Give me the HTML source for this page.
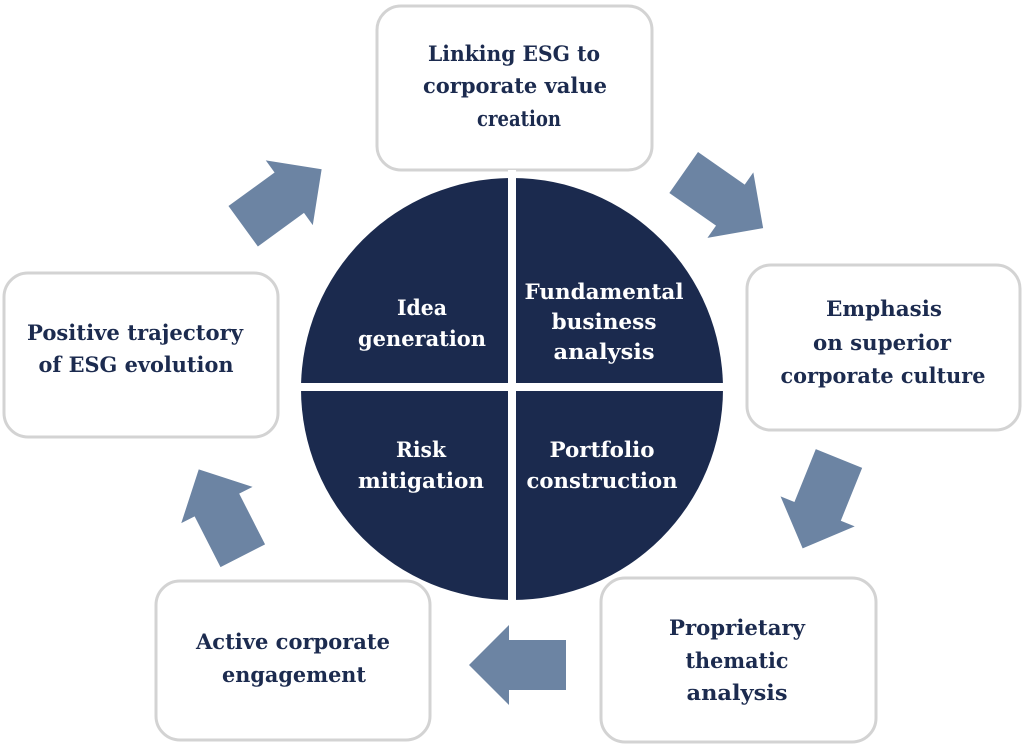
<!DOCTYPE html>
<html><head><meta charset="utf-8"><style>
html,body{margin:0;padding:0;background:#fff;}
svg{display:block;}
text{font-family:"DejaVu Serif","Liberation Serif",serif;font-weight:bold;font-size:21px;text-anchor:middle;}
.d{fill:#1c2b4f;}
.w{fill:#fff;}
</style></head><body>
<svg width="1024" height="751" viewBox="0 0 1024 751" xmlns="http://www.w3.org/2000/svg">
<defs>
<polygon id="arr" points="-48,-25 9,-25 9,-40 49,0 9,40 9,25 -48,25" fill="#6c84a3"/>
</defs>
<g fill="#fff" stroke="#d3d3d3" stroke-width="3">
<rect x="377" y="6" width="275" height="164" rx="24"/>
<rect x="747" y="265" width="273" height="165" rx="24"/>
<rect x="601" y="578" width="275" height="164" rx="24"/>
<rect x="156" y="581" width="274" height="159" rx="24"/>
<rect x="4" y="273" width="274" height="164" rx="24"/>
</g>
<use href="#arr" transform="translate(282,198) rotate(-36)"/>
<use href="#arr" transform="translate(723,200) rotate(35)"/>
<use href="#arr" transform="translate(821,503) rotate(112)"/>
<use href="#arr" transform="translate(518,665) rotate(180)"/>
<use href="#arr" transform="translate(221,513) rotate(-117)"/>
<circle cx="512" cy="389" r="211" fill="#1b2a4e"/>
<rect x="508" y="170" width="8" height="440" fill="#fff"/>
<rect x="290" y="383" width="445" height="8" fill="#fff"/>

<text class="d" x="514" y="61" textLength="172" lengthAdjust="spacingAndGlyphs">Linking ESG to</text>
<text class="d" x="515" y="93" textLength="184" lengthAdjust="spacingAndGlyphs">corporate value</text>
<text class="d" x="519" y="126" textLength="84" lengthAdjust="spacingAndGlyphs">creation</text>

<text class="d" x="884" y="316" textLength="116" lengthAdjust="spacingAndGlyphs">Emphasis</text>
<text class="d" x="882" y="350" textLength="138" lengthAdjust="spacingAndGlyphs">on superior</text>
<text class="d" x="883" y="383" textLength="205" lengthAdjust="spacingAndGlyphs">corporate culture</text>

<text class="d" x="737" y="635" textLength="136" lengthAdjust="spacingAndGlyphs">Proprietary</text>
<text class="d" x="737" y="668" textLength="103" lengthAdjust="spacingAndGlyphs">thematic</text>
<text class="d" x="737" y="700" textLength="101" lengthAdjust="spacingAndGlyphs">analysis</text>

<text class="d" x="293" y="649" textLength="194" lengthAdjust="spacingAndGlyphs">Active corporate</text>
<text class="d" x="294" y="682" textLength="144" lengthAdjust="spacingAndGlyphs">engagement</text>

<text class="d" x="135" y="340" textLength="216" lengthAdjust="spacingAndGlyphs">Positive trajectory</text>
<text class="d" x="136" y="372" textLength="195" lengthAdjust="spacingAndGlyphs">of ESG evolution</text>

<text class="w" x="422" y="315" textLength="50" lengthAdjust="spacingAndGlyphs">Idea</text>
<text class="w" x="422" y="346" textLength="128" lengthAdjust="spacingAndGlyphs">generation</text>
<text class="w" x="604" y="299" textLength="159" lengthAdjust="spacingAndGlyphs">Fundamental</text>
<text class="w" x="604" y="329" textLength="105" lengthAdjust="spacingAndGlyphs">business</text>
<text class="w" x="604" y="359" textLength="101" lengthAdjust="spacingAndGlyphs">analysis</text>
<text class="w" x="421" y="457" textLength="50" lengthAdjust="spacingAndGlyphs">Risk</text>
<text class="w" x="421" y="488" textLength="126" lengthAdjust="spacingAndGlyphs">mitigation</text>
<text class="w" x="602" y="457" textLength="105" lengthAdjust="spacingAndGlyphs">Portfolio</text>
<text class="w" x="602" y="488" textLength="151" lengthAdjust="spacingAndGlyphs">construction</text>
</svg>
</body></html>
